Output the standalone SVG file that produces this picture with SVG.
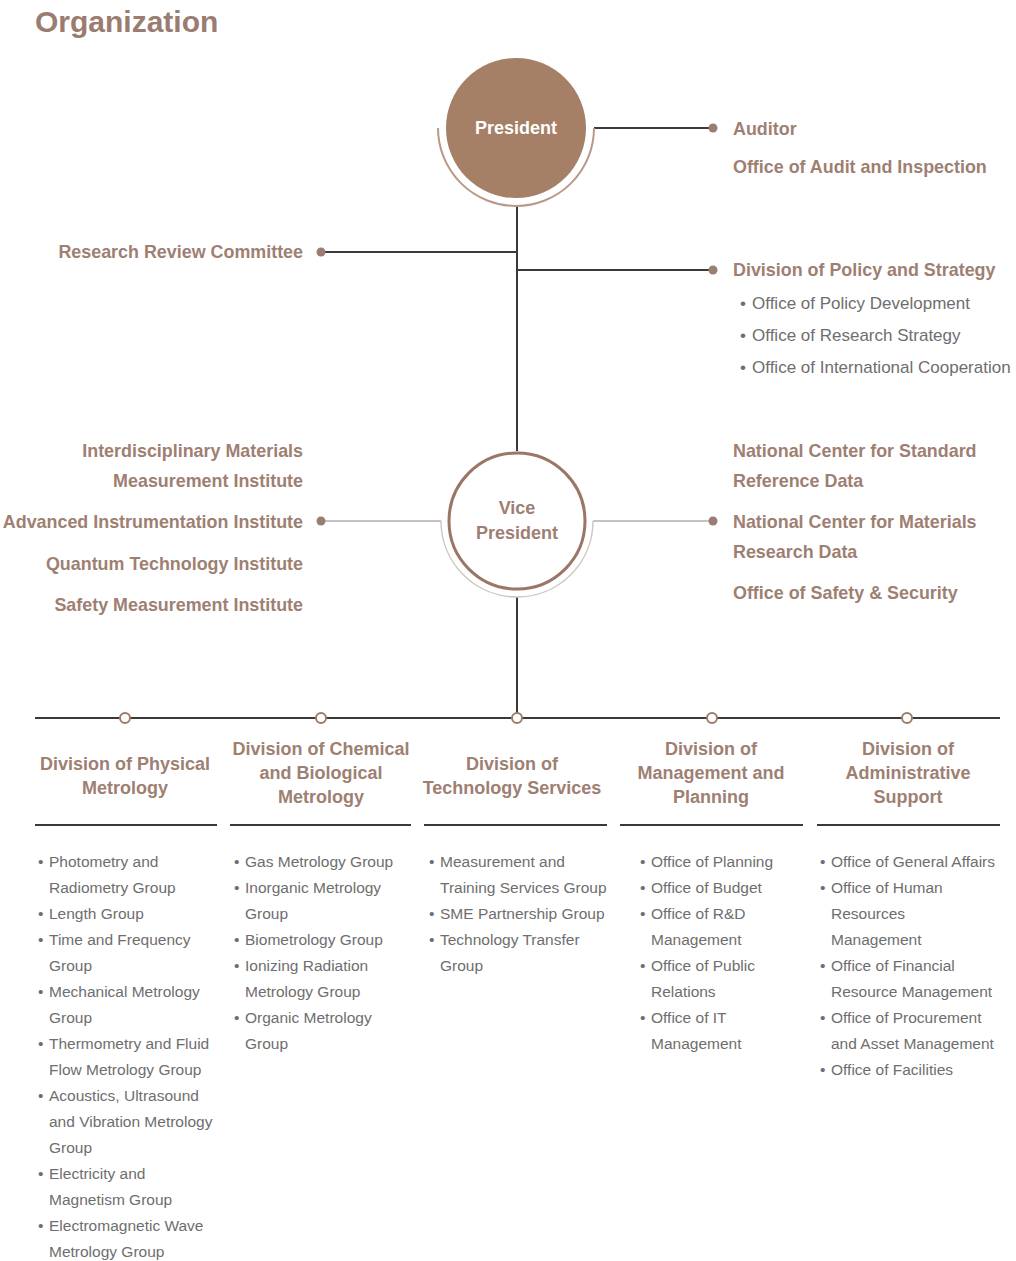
<svg xmlns="http://www.w3.org/2000/svg" width="1016" height="1261" viewBox="0 0 1016 1261">
<style>
text{font-family:"Liberation Sans",Arial,sans-serif}
.t{font-size:30px;font-weight:bold;fill:#9a7c70}
.b{font-size:17.9px;font-weight:bold;fill:#9e8073}
.d{font-size:18px;font-weight:bold;fill:#9e8073;text-anchor:middle}
.e{text-anchor:end}
.p{font-size:17px;fill:#6e6e6e}
.l{font-size:15.5px;fill:#6e6e6e}
.dk{stroke:#3a3a3a;stroke-width:2;fill:none}
.lt{stroke:#8a8a8a;stroke-width:1.2;fill:none}
.dot{fill:#9a7e72}
.ring{fill:#fff;stroke:#9e7a68;stroke-width:2}
</style>
<rect width="1016" height="1261" fill="#fff"/>
<text class="t" x="35" y="32">Organization</text>

<g id="connectors">
<line class="dk" x1="594" y1="128" x2="713" y2="128"/>
<line class="dk" x1="517" y1="206" x2="517" y2="451"/>
<line class="dk" x1="321" y1="252" x2="517" y2="252"/>
<line class="dk" x1="517" y1="270" x2="713" y2="270"/>
<line class="lt" x1="321" y1="521" x2="441" y2="521"/>
<line class="lt" x1="593" y1="521" x2="713" y2="521"/>
<line class="dk" x1="517" y1="597" x2="517" y2="718"/>
<line class="dk" x1="35" y1="718" x2="1000" y2="718"/>
<circle class="dot" cx="713" cy="128" r="4.5"/>
<circle class="dot" cx="321" cy="252" r="4.5"/>
<circle class="dot" cx="713" cy="270" r="4.5"/>
<circle class="dot" cx="321" cy="521" r="4.5"/>
<circle class="dot" cx="713" cy="521" r="4.5"/>
<circle class="ring" cx="125" cy="718" r="5"/>
<circle class="ring" cx="321" cy="718" r="5"/>
<circle class="ring" cx="517" cy="718" r="5"/>
<circle class="ring" cx="712" cy="718" r="5"/>
<circle class="ring" cx="907" cy="718" r="5"/>
</g>

<g id="president">
<circle cx="516" cy="128" r="70" fill="#a57f66"/>
<path d="M438 128 A78 78 0 0 0 594 128" fill="none" stroke="#b8998a" stroke-width="2"/>
<text class="d" x="516" y="134" style="fill:#fff">President</text>
</g>

<g id="auditor">
<text class="b" x="733" y="135">Auditor</text>
<text class="b" x="733" y="173">Office of Audit and Inspection</text>
</g>

<g id="research-review-committee">
<text class="b e" x="303" y="258">Research Review Committee</text>
</g>

<g id="policy-strategy">
<text class="b" x="733" y="276">Division of Policy and Strategy</text>
<text class="p" x="740" y="309">•</text><text class="p" x="752" y="309">Office of Policy Development</text>
<text class="p" x="740" y="341">•</text><text class="p" x="752" y="341">Office of Research Strategy</text>
<text class="p" x="740" y="373">•</text><text class="p" x="752" y="373">Office of International Cooperation</text>
</g>

<g id="vice-president">
<circle cx="517" cy="521" r="68" fill="#fff" stroke="#9b7565" stroke-width="3"/>
<path d="M441 521 A76 76 0 0 0 593 521" fill="none" stroke="#d2c6bf" stroke-width="1.5"/>
<text class="d" x="517" y="514">Vice</text>
<text class="d" x="517" y="539">President</text>
</g>

<g id="institutes">
<text class="b e" x="303" y="457">Interdisciplinary Materials</text>
<text class="b e" x="303" y="487">Measurement Institute</text>
<text class="b e" x="303" y="528">Advanced Instrumentation Institute</text>
<text class="b e" x="303" y="570">Quantum Technology Institute</text>
<text class="b e" x="303" y="611">Safety Measurement Institute</text>
</g>

<g id="centers">
<text class="b" x="733" y="457">National Center for Standard</text>
<text class="b" x="733" y="487">Reference Data</text>
<text class="b" x="733" y="528">National Center for Materials</text>
<text class="b" x="733" y="558">Research Data</text>
<text class="b" x="733" y="599">Office of Safety &amp; Security</text>
</g>

<g id="div-physical">
<text class="d" x="125" y="770">Division of Physical</text>
<text class="d" x="125" y="794">Metrology</text>
<line class="dk" x1="35" y1="825" x2="217" y2="825"/>
<g class="l">
<text x="38" y="867">•</text><text x="49" y="867">Photometry and</text>
<text x="49" y="893">Radiometry Group</text>
<text x="38" y="919">•</text><text x="49" y="919">Length Group</text>
<text x="38" y="945">•</text><text x="49" y="945">Time and Frequency</text>
<text x="49" y="971">Group</text>
<text x="38" y="997">•</text><text x="49" y="997">Mechanical Metrology</text>
<text x="49" y="1023">Group</text>
<text x="38" y="1049">•</text><text x="49" y="1049">Thermometry and Fluid</text>
<text x="49" y="1075">Flow Metrology Group</text>
<text x="38" y="1101">•</text><text x="49" y="1101">Acoustics, Ultrasound</text>
<text x="49" y="1127">and Vibration Metrology</text>
<text x="49" y="1153">Group</text>
<text x="38" y="1179">•</text><text x="49" y="1179">Electricity and</text>
<text x="49" y="1205">Magnetism Group</text>
<text x="38" y="1231">•</text><text x="49" y="1231">Electromagnetic Wave</text>
<text x="49" y="1257">Metrology Group</text>
</g>
</g>

<g id="div-chemical">
<text class="d" x="321" y="755">Division of Chemical</text>
<text class="d" x="321" y="779">and Biological</text>
<text class="d" x="321" y="803">Metrology</text>
<line class="dk" x1="230" y1="825" x2="411" y2="825"/>
<g class="l">
<text x="234" y="867">•</text><text x="245" y="867">Gas Metrology Group</text>
<text x="234" y="893">•</text><text x="245" y="893">Inorganic Metrology</text>
<text x="245" y="919">Group</text>
<text x="234" y="945">•</text><text x="245" y="945">Biometrology Group</text>
<text x="234" y="971">•</text><text x="245" y="971">Ionizing Radiation</text>
<text x="245" y="997">Metrology Group</text>
<text x="234" y="1023">•</text><text x="245" y="1023">Organic Metrology</text>
<text x="245" y="1049">Group</text>
</g>
</g>

<g id="div-technology">
<text class="d" x="512" y="770">Division of</text>
<text class="d" x="512" y="794">Technology Services</text>
<line class="dk" x1="424" y1="825" x2="607" y2="825"/>
<g class="l">
<text x="429" y="867">•</text><text x="440" y="867">Measurement and</text>
<text x="440" y="893">Training Services Group</text>
<text x="429" y="919">•</text><text x="440" y="919">SME Partnership Group</text>
<text x="429" y="945">•</text><text x="440" y="945">Technology Transfer</text>
<text x="440" y="971">Group</text>
</g>
</g>

<g id="div-management">
<text class="d" x="711" y="755">Division of</text>
<text class="d" x="711" y="779">Management and</text>
<text class="d" x="711" y="803">Planning</text>
<line class="dk" x1="620" y1="825" x2="803" y2="825"/>
<g class="l">
<text x="640" y="867">•</text><text x="651" y="867">Office of Planning</text>
<text x="640" y="893">•</text><text x="651" y="893">Office of Budget</text>
<text x="640" y="919">•</text><text x="651" y="919">Office of R&amp;D</text>
<text x="651" y="945">Management</text>
<text x="640" y="971">•</text><text x="651" y="971">Office of Public</text>
<text x="651" y="997">Relations</text>
<text x="640" y="1023">•</text><text x="651" y="1023">Office of IT</text>
<text x="651" y="1049">Management</text>
</g>
</g>

<g id="div-administrative">
<text class="d" x="908" y="755">Division of</text>
<text class="d" x="908" y="779">Administrative</text>
<text class="d" x="908" y="803">Support</text>
<line class="dk" x1="817" y1="825" x2="1000" y2="825"/>
<g class="l">
<text x="820" y="867">•</text><text x="831" y="867">Office of General Affairs</text>
<text x="820" y="893">•</text><text x="831" y="893">Office of Human</text>
<text x="831" y="919">Resources</text>
<text x="831" y="945">Management</text>
<text x="820" y="971">•</text><text x="831" y="971">Office of Financial</text>
<text x="831" y="997">Resource Management</text>
<text x="820" y="1023">•</text><text x="831" y="1023">Office of Procurement</text>
<text x="831" y="1049">and Asset Management</text>
<text x="820" y="1075">•</text><text x="831" y="1075">Office of Facilities</text>
</g>
</g>
</svg>
